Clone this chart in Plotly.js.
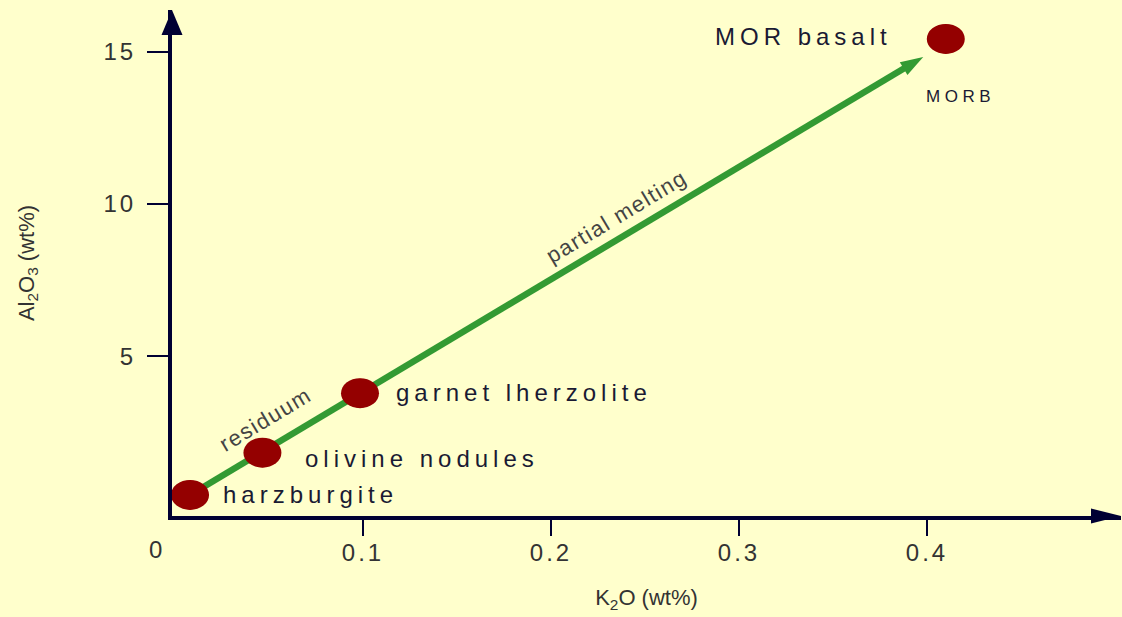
<!DOCTYPE html>
<html>
<head>
<meta charset="utf-8">
<script src="https://cdn.plot.ly/plotly-3.0.1.min.js"></script>
<style>
  html, body { margin: 0; padding: 0; background: #FFFFCC; }
  #chart { width: 1122px; height: 617px; }
  .xtick text, .ytick text { letter-spacing: 3px; }
</style>
</head>
<body>
<div id="chart"></div>
<script>
// ---- data ----
const rockNames = ['harzburgite', 'olivine nodules', 'garnet lherzolite', 'MOR basalt'];
const k2oValues = [0.008, 0.0465, 0.0984, 0.41];
const al2o3Values = [0.45, 1.84, 3.79, 15.42];
const meltPathK2O = [0.008, 0.398];
const meltPathAl2O3 = [0.45, 14.83];
const xTickVals = [0, 0.1, 0.2, 0.3, 0.4];
const xTickText = ['0', '0.1', '0.2', '0.3', '0.4'];
const yTickVals = [5, 10, 15];
const yTickText = ['5', '10', '15'];

// ---- styling ----
const navy = '#000033';
const labelColor = '#1a1a33';
const green = '#339a33';
const dotColor = '#940000';
const font = 'Liberation Sans, Arial, sans-serif';
// label offsets (pixels) relative to each point
const labelStyle = [
  {xshift: 31, yshift: 0, xanchor: 'left', align: 'left'},
  {xshift: 41, yshift: -6, xanchor: 'left', align: 'left'},
  {xshift: 34, yshift: 1, xanchor: 'left', align: 'left'},
  {xshift: -52, yshift: 2, xanchor: 'right', align: 'right'}
];

const traces = [
  {
    x: meltPathK2O, y: meltPathAl2O3, type: 'scatter', mode: 'lines+markers',
    line: {color: green, width: 6.5},
    marker: {symbol: 'arrow', angleref: 'previous', size: [0, 24], opacity: 1, color: green, line: {width: 0}},
    hoverinfo: 'skip', showlegend: false
  },
  {
    x: k2oValues, y: al2o3Values, text: rockNames, type: 'scatter', mode: 'markers',
    marker: {color: dotColor, size: 29}, showlegend: false
  }
];

const shapes = k2oValues.map((x, i) => ({
  type: 'circle', xref: 'x', yref: 'y',
  xsizemode: 'pixel', ysizemode: 'pixel',
  xanchor: x, yanchor: al2o3Values[i],
  x0: -19, x1: 19, y0: -15, y1: 15,
  fillcolor: dotColor, line: {width: 0}, layer: 'above'
}));
// axis arrowheads
shapes.push({
  type: 'path', xref: 'paper', yref: 'paper', xsizemode: 'pixel', ysizemode: 'pixel',
  xanchor: 1, yanchor: 0, path: 'M0,0 L-30,7.5 L-30,-7.5 Z',
  fillcolor: navy, line: {width: 0}, layer: 'above'
});
shapes.push({
  type: 'path', xref: 'paper', yref: 'paper', xsizemode: 'pixel', ysizemode: 'pixel',
  xanchor: 0, yanchor: 1, path: 'M0,0 L-10.5,-25 L10.5,-25 Z',
  fillcolor: navy, line: {width: 0}, layer: 'above'
});

const annotations = rockNames.map((name, i) => ({
  x: k2oValues[i], y: al2o3Values[i], xref: 'x', yref: 'y',
  text: '<span style="letter-spacing:5px">' + name + '</span>',
  showarrow: false,
  xanchor: labelStyle[i].xanchor, align: labelStyle[i].align, yanchor: 'middle',
  xshift: labelStyle[i].xshift, yshift: labelStyle[i].yshift,
  font: {family: font, size: 24, color: labelColor}
}));
annotations.push({
  x: k2oValues[3], y: al2o3Values[3], xref: 'x', yref: 'y',
  text: '<span style="letter-spacing:4.5px">MORB</span>', showarrow: false,
  xanchor: 'center', yanchor: 'middle', xshift: 15, yshift: -58,
  font: {family: font, size: 17, color: labelColor}
});
annotations.push({
  x: 0.0479, y: 2.94, xref: 'x', yref: 'y', text: '<span style="letter-spacing:1.5px">residuum</span>',
  showarrow: false, textangle: -31, xanchor: 'center', yanchor: 'middle',
  font: {family: font, size: 22, color: '#444444'}
});
annotations.push({
  x: 0.235, y: 9.58, xref: 'x', yref: 'y', text: '<span style="letter-spacing:1.5px">partial melting</span>',
  showarrow: false, textangle: -31, xanchor: 'center', yanchor: 'middle',
  font: {family: font, size: 22, color: '#444444'}
});
// "0" label at the origin corner
annotations.push({
  x: xTickVals[0], y: 0, xref: 'x', yref: 'paper', text: '<span style="letter-spacing:3px">' + xTickText[0] + '</span>',
  showarrow: false, xanchor: 'center', yanchor: 'middle', xshift: -18, yshift: -33,
  font: {family: font, size: 24, color: '#333333'}
});

const layout = {
  width: 1122, height: 617,
  margin: {l: 172, r: 1, t: 10, b: 101, pad: 0},
  paper_bgcolor: '#FFFFCC', plot_bgcolor: '#FFFFCC',
  showlegend: false,
  font: {family: font, size: 22, color: '#333333'},
  xaxis: {
    range: [-0.0016, 0.5032], showgrid: false, zeroline: false,
    showline: true, linecolor: navy, linewidth: 4,
    tickmode: 'array', tickvals: xTickVals.slice(1), ticktext: xTickText.slice(1),
    ticks: 'outside', ticklen: 16, tickwidth: 2, tickcolor: navy,
    ticklabelstandoff: -4,
    tickfont: {family: font, size: 24, color: '#333333'},
    title: {text: 'K<sub>2</sub>O (wt%)', font: {family: font, size: 22, color: '#333333'}, standoff: 26}
  },
  yaxis: {
    range: [-0.24, 16.37], showgrid: false, zeroline: false,
    showline: true, linecolor: navy, linewidth: 4,
    tickmode: 'array', tickvals: yTickVals, ticktext: yTickText,
    ticks: 'outside', ticklen: 21, tickwidth: 2, tickcolor: navy,
    ticklabelstandoff: 6,
    tickfont: {family: font, size: 24, color: '#333333'},
    title: {text: 'Al<sub>2</sub>O<sub>3</sub> (wt%)', font: {family: font, size: 22, color: '#333333'}, standoff: 64}
  },
  shapes: shapes,
  annotations: annotations
};

Plotly.newPlot('chart', traces, layout, {displayModeBar: false, staticPlot: true});
</script>
</body>
</html>
